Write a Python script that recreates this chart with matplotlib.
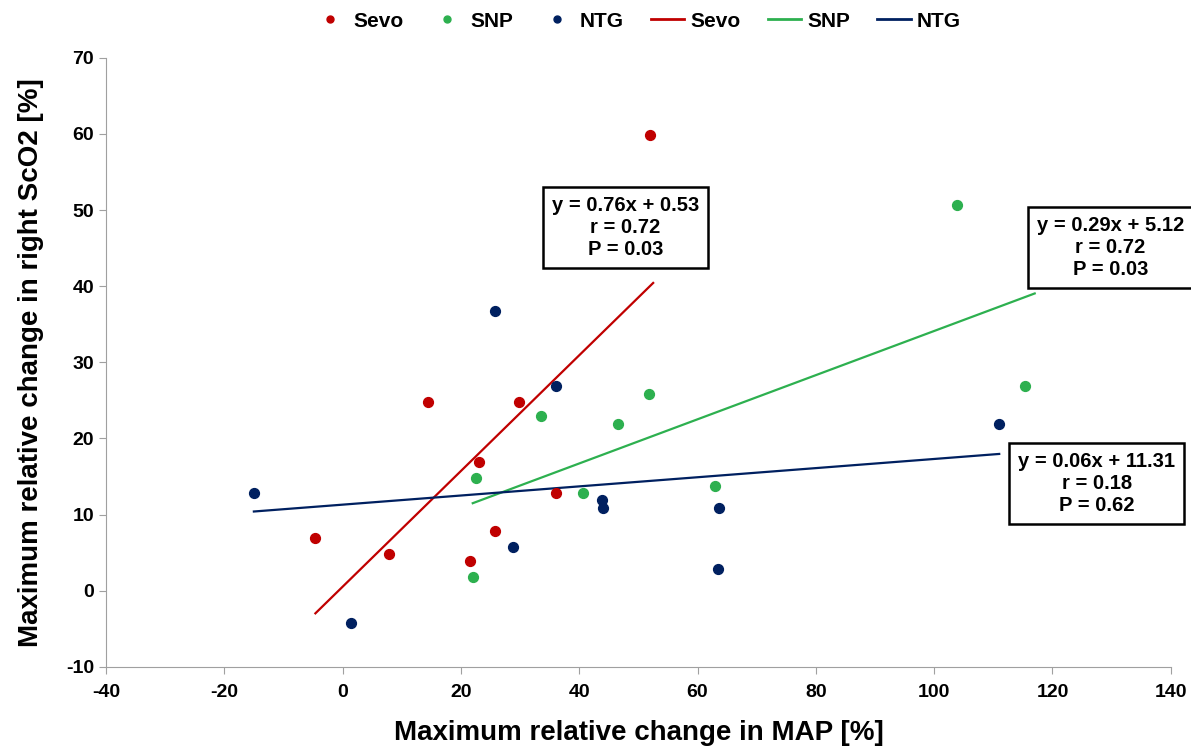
import matplotlib
matplotlib.use('Agg')
import matplotlib.pyplot as plt
from matplotlib.lines import Line2D

plt.rcParams['font.family'] = ['Liberation Sans', 'DejaVu Sans']
plt.rcParams['font.weight'] = 'bold'
plt.rcParams['axes.unicode_minus'] = False

# data
sevo_x = [14.5, 29.8, 23.0, 36.0, -4.6, 7.8, 25.8, 21.5, 52.0]
sevo_y = [24.8, 24.8, 16.9, 12.9, 6.9, 4.8, 7.9, 3.9, 59.9]
snp_x = [33.5, 46.6, 51.8, 22.5, 40.7, 63.0, 22.0, 103.8, 115.4]
snp_y = [22.9, 21.9, 25.9, 14.8, 12.9, 13.8, 1.8, 50.7, 26.9]
ntg_x = [-14.9, 36.0, 28.8, 43.8, 44.0, 63.6, 63.4, 1.4, 25.8, 111.0]
ntg_y = [12.9, 26.9, 5.8, 11.9, 10.9, 10.9, 2.9, -4.2, 36.8, 21.9]

# regression lines: slope, intercept, x-range
sevo_fit = (0.76, 0.53, -4.6, 52.5)
snp_fit = (0.29, 5.12, 22.0, 117.0)
ntg_fit = (0.06, 11.31, -15.0, 111.0)

sevo_txt = 'y = 0.76x + 0.53\nr = 0.72\nP = 0.03'
snp_txt = 'y = 0.29x + 5.12\nr = 0.72\nP = 0.03'
ntg_txt = 'y = 0.06x + 11.31\nr = 0.18\nP = 0.62'

red = '#C00000'
green = '#2DB04F'
navy = '#002060'


def fit_line(ax, fit, color):
	a, b, x0, x1 = fit
	ax.plot([x0, x1], [a * x0 + b, a * x1 + b], color=color, lw=1.6)


def main():
	fig = plt.figure(figsize=(11.91, 7.51), dpi=100)
	ax = fig.add_axes([0.089, 0.112, 0.894, 0.811])

	ax.scatter(sevo_x, sevo_y, s=50, color=red, zorder=3)
	ax.scatter(snp_x, snp_y, s=50, color=green, zorder=3)
	ax.scatter(ntg_x, ntg_y, s=50, color=navy, zorder=3)
	fit_line(ax, sevo_fit, red)
	fit_line(ax, snp_fit, green)
	fit_line(ax, ntg_fit, navy)

	ax.set_xlim(-40, 140)
	ax.set_ylim(-10, 70)
	ax.set_xticks(range(-40, 141, 20))
	ax.set_yticks(range(-10, 71, 10))
	for s in ['top', 'right']:
		ax.spines[s].set_visible(False)
	for s in ['left', 'bottom']:
		ax.spines[s].set_color('#A0A0A0')
	ax.tick_params(colors='#A0A0A0', length=5, labelsize=14, labelcolor='black')
	ax.tick_params(axis='x', pad=7)
	for lab in ax.get_xticklabels() + ax.get_yticklabels():
		lab.set_fontweight('bold')

	ax.set_xlabel('Maximum relative change in MAP [%]', fontsize=20, fontweight='bold', labelpad=14)
	ax.set_ylabel('Maximum relative change in right ScO2 [%]', fontsize=20, fontweight='bold', labelpad=16)

	box = dict(boxstyle='square,pad=0.45', fc='white', ec='black', lw=1.8)
	kw = dict(ha='center', va='center', fontsize=14.5, fontweight='bold',
		linespacing=1.2, bbox=box, clip_on=False, zorder=4)
	ax.text(47.8, 47.7, sevo_txt, **kw)
	ax.text(129.8, 45.1, snp_txt, **kw)
	ax.text(127.5, 14.1, ntg_txt, **kw)

	handles = [
		Line2D([], [], ls='', marker='o', ms=5, color=red),
		Line2D([], [], ls='', marker='o', ms=5, color=green),
		Line2D([], [], ls='', marker='o', ms=5, color=navy),
		Line2D([], [], color=red, lw=2),
		Line2D([], [], color=green, lw=2),
		Line2D([], [], color=navy, lw=2),
	]
	labels = ['Sevo', 'SNP', 'NTG', 'Sevo', 'SNP', 'NTG']
	fig.legend(handles, labels, loc='center', bbox_to_anchor=(0.535, 0.972), ncol=6,
		frameon=False, prop={'size': 15, 'weight': 'bold'}, handlelength=1.6,
		handletextpad=0.3, columnspacing=1.3)

	plt.savefig('out.png', dpi=100)


if __name__ == "__main__":
	main()
